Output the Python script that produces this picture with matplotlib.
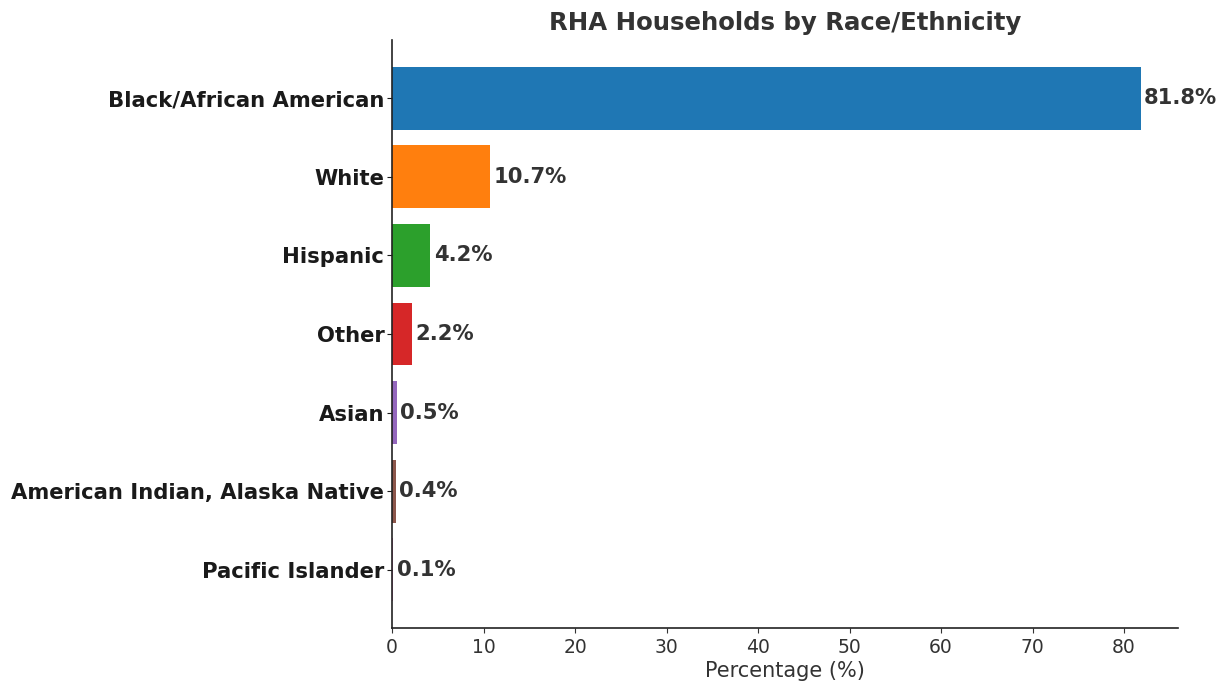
import matplotlib
matplotlib.use("Agg")
import matplotlib.pyplot as plt

categories = [
    "Black/African American",
    "White",
    "Hispanic",
    "Other",
    "Asian",
    "American Indian, Alaska Native",
    "Pacific Islander",
]
percentages = [81.8, 10.7, 4.2, 2.2, 0.5, 0.4, 0.1]
colors = ["#1f77b4", "#ff7f0e", "#2ca02c", "#d62728", "#9467bd", "#8c564b", "#e377c2"]

fig = plt.figure(figsize=(12.26, 6.86), dpi=100)
ax = fig.add_axes([392 / 1226, 1 - 628 / 686, (1178 - 392) / 1226, (628 - 40) / 686])

bars = ax.barh(categories, percentages, color=colors)
ax.invert_yaxis()

for bar, val in zip(bars, percentages):
    ax.text(bar.get_width() + 0.4, bar.get_y() + bar.get_height() / 2,
            f"{val}%", va="center", ha="left", fontsize=15.2,
            fontweight="bold", color="#333333")

ax.set_title("RHA Households by Race/Ethnicity", fontsize=17.6,
             fontweight="bold", color="#333333", pad=7)
ax.set_xlabel("Percentage (%)", fontsize=15, color="#333333", labelpad=3)
ax.tick_params(axis="y", labelsize=15.2, colors="#1a1a1a", pad=2)
for lbl in ax.get_yticklabels():
    lbl.set_fontweight("bold")
ax.tick_params(axis="x", labelsize=13.5, colors="#333333")
ax.spines["top"].set_visible(False)
ax.spines["right"].set_visible(False)
for s in ("left", "bottom"):
    ax.spines[s].set_color("#222222")
    ax.spines[s].set_linewidth(1.2)

fig.savefig("out.png", dpi=100)
